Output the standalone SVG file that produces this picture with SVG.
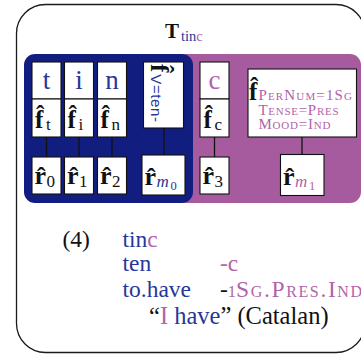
<svg xmlns="http://www.w3.org/2000/svg" width="361" height="354" viewBox="0 0 361 354">
  <style>
    .frame{fill:#fff;stroke:#1a1a1a;stroke-width:1.3}
    .box{fill:#fff;stroke:#111;stroke-width:1.1}
    .edge{stroke:#111;stroke-width:1.3;fill:none}
    text{font-family:"Liberation Serif","Times New Roman",serif;fill:#111}
    .sans{font-family:"Liberation Sans",Arial,sans-serif}
    .blue{fill:#27369a}
    .purple{fill:#b163a9}
    .b{font-weight:bold}
    .sc{font-variant:small-caps}
    .seg{font-size:27px;text-anchor:middle}
    .f{font-size:25px;font-weight:bold}
    .r{font-size:26px;font-weight:bold}
    .sub{font-size:17px}
    .gl{font-size:23.5px}
  </style>

  <rect width="361" height="354" fill="#fff"/>

  <!-- outer frame -->
  <rect class="frame" x="16.5" y="4.5" width="348.5" height="348" rx="29"/>

  <!-- title -->
  <g id="title">
    <text x="165" y="37.5" font-size="21" class="b">T</text>
    <text x="181" y="41" font-size="14.5"><tspan class="blue">tin</tspan><tspan class="purple">c</tspan></text>
  </g>

  <!-- morpheme regions -->
  <g id="suffix-region"><rect x="175" y="54" width="186" height="149" rx="11" fill="#a75b9f"/></g>
  <g id="root-region"><rect x="24" y="54" width="169" height="149" rx="11" fill="#111e80"/></g>

  <!-- connectors -->
  <g id="connectors">
    <line class="edge" x1="46.5" y1="137" x2="46.5" y2="157"/>
    <line class="edge" x1="79" y1="137" x2="79" y2="157"/>
    <line class="edge" x1="112" y1="137" x2="112" y2="157"/>
    <line class="edge" x1="164" y1="128" x2="164" y2="155"/>
    <line class="edge" x1="214.5" y1="137" x2="214.5" y2="157"/>
    <line class="edge" x1="302" y1="137" x2="302" y2="154.5"/>
  </g>

  <!-- segment nodes -->
  <g id="seg-t">
    <rect class="box" x="32" y="62" width="29" height="37"/>
    <text class="seg blue" x="46.5" y="89">t</text>
  </g>
  <g id="seg-i">
    <rect class="box" x="64.5" y="62" width="29" height="37"/>
    <text class="seg blue" x="79" y="89">i</text>
  </g>
  <g id="seg-n">
    <rect class="box" x="97.5" y="62" width="29" height="37"/>
    <text class="seg blue" x="112" y="89">n</text>
  </g>
  <g id="seg-c">
    <rect class="box" x="200" y="62" width="29" height="37"/>
    <text class="seg purple" x="214.5" y="89">c</text>
  </g>

  <!-- feature nodes -->
  <g id="feat-t">
    <rect class="box" x="32" y="99" width="29" height="38"/>
    <text class="f" x="35" y="128">f̂</text>
    <text class="sub" x="46" y="130">t</text>
  </g>
  <g id="feat-i">
    <rect class="box" x="64.5" y="99" width="29" height="38"/>
    <text class="f" x="67.5" y="128">f̂</text>
    <text class="sub" x="78.5" y="130">i</text>
  </g>
  <g id="feat-n">
    <rect class="box" x="97.5" y="99" width="29" height="38"/>
    <text class="f" x="100.5" y="128">f̂</text>
    <text class="sub" x="111.5" y="130">n</text>
  </g>
  <g id="feat-c">
    <rect class="box" x="200" y="99" width="29" height="38"/>
    <text class="f" x="203.5" y="128">f̂</text>
    <text class="sub" x="214.5" y="130">c</text>
  </g>
  <g id="feat-root">
    <rect class="box" x="143.5" y="62" width="40" height="66"/>
    <text transform="translate(151,64) rotate(90)"><tspan class="f">f̂</tspan><tspan class="sans blue" font-size="15" dx="2" letter-spacing="0.6">V=ten-</tspan></text>
  </g>
  <g id="feat-infl">
    <rect class="box" x="248" y="69" width="108.5" height="68"/>
    <text class="f" x="249" y="100">f̂</text>
    <text class="purple sc" x="258.5" y="100" font-size="15" textLength="93.5" lengthAdjust="spacing">PerNum=1Sg</text>
    <text class="purple sc" x="258.5" y="114.5" font-size="15" textLength="80" lengthAdjust="spacing">Tense=Pres</text>
    <text class="purple sc" x="258.5" y="129" font-size="15" textLength="72" lengthAdjust="spacing">Mood=Ind</text>
  </g>

  <!-- realisation nodes -->
  <g id="real-0">
    <rect class="box" x="32" y="157" width="29" height="37"/>
    <text class="r" x="34.5" y="184">r̂</text>
    <text class="sub" x="46.5" y="187">0</text>
  </g>
  <g id="real-1">
    <rect class="box" x="64.5" y="157" width="29" height="37"/>
    <text class="r" x="67" y="184">r̂</text>
    <text class="sub" x="79" y="187">1</text>
  </g>
  <g id="real-2">
    <rect class="box" x="97.5" y="157" width="29" height="37"/>
    <text class="r" x="100" y="184">r̂</text>
    <text class="sub" x="112" y="187">2</text>
  </g>
  <g id="real-m0">
    <rect class="box" x="142" y="155" width="43" height="40"/>
    <text class="r" x="144.5" y="185">r̂</text>
    <text class="sub blue" x="156.5" y="187" font-style="italic">m</text>
    <text class="blue" x="170.5" y="190" font-size="12.5">0</text>
  </g>
  <g id="real-3">
    <rect class="box" x="200" y="157" width="29" height="37"/>
    <text class="r" x="202.5" y="184">r̂</text>
    <text class="sub" x="214.5" y="187">3</text>
  </g>
  <g id="real-m1">
    <rect class="box" x="280.5" y="154.5" width="43.5" height="41"/>
    <text class="r" x="283" y="185">r̂</text>
    <text class="sub purple" x="295" y="187" font-style="italic">m</text>
    <text class="purple" x="309" y="190" font-size="12.5">1</text>
  </g>

  <!-- interlinear gloss -->
  <g id="gloss" class="gl">
    <text x="62.5" y="246.5">(4)</text>
    <text x="122.5" y="246.5"><tspan class="blue">tin</tspan><tspan class="purple">c</tspan></text>
    <text x="122.5" y="271" class="blue">ten</text>
    <text x="220" y="271" class="purple">-c</text>
    <text x="122.5" y="296.5" class="blue">to.have</text>
    <text x="220" y="296.5">-<tspan class="purple" font-size="16.5">1</tspan><tspan class="purple sc" textLength="126" lengthAdjust="spacing">Sg.Pres.Ind</tspan></text>
    <text x="149" y="323.5" font-size="24.5">“<tspan class="purple">I</tspan> <tspan class="blue">have</tspan>” (Catalan)</text>
  </g>
</svg>
